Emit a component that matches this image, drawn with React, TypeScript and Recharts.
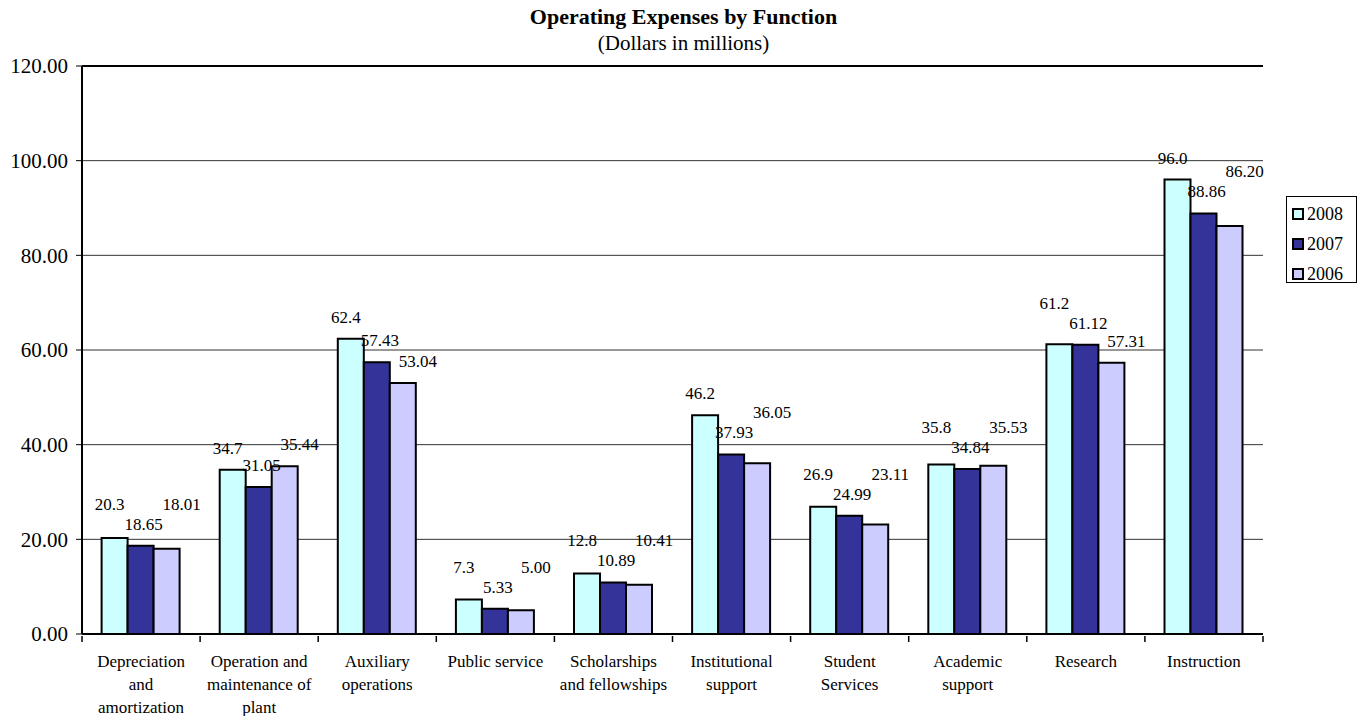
import React from "react";
import { BarChart, Bar, XAxis, YAxis, CartesianGrid, LabelList, ReferenceLine } from "recharts";

const categories = [
  "Depreciation\nand\namortization",
  "Operation and\nmaintenance of\nplant",
  "Auxiliary\noperations",
  "Public service",
  "Scholarships\nand fellowships",
  "Institutional\nsupport",
  "Student\nServices",
  "Academic\nsupport",
  "Research",
  "Instruction",
];
const values2008 = [20.3, 34.7, 62.4, 7.3, 12.8, 46.2, 26.9, 35.8, 61.2, 96.0];
const values2007 = [18.65, 31.05, 57.43, 5.33, 10.89, 37.93, 24.99, 34.84, 61.12, 88.86];
const values2006 = [18.01, 35.44, 53.04, 5.0, 10.41, 36.05, 23.11, 35.53, 57.31, 86.2];
const yTicks = [0, 20, 40, 60, 80, 100, 120];

const seriesDefs = [
  { key: "y2008", name: "2008", color: "#CCFFFF", digits: 1, dx: -5, values: values2008 },
  { key: "y2007", name: "2007", color: "#333399", digits: 2, dx: 3, values: values2007 },
  { key: "y2006", name: "2006", color: "#CCCCFF", digits: 2, dx: 15, values: values2006 },
];

const data = categories.map((c, i) => ({
  name: c,
  y2008: values2008[i],
  y2007: values2007[i],
  y2006: values2006[i],
}));

const FONT = "Liberation Serif, Times New Roman, serif";
const LIFT = 16;
const MIN_SEP = 16;
const STEP = 20;

// label baselines for one category, staggered so neighbouring labels don't collide
function labelBaselines(index: number, base: number, pxPerUnit: number) {
  const tops = seriesDefs.map((s) => base - s.values[index] * pxPerUnit);
  const L = tops.map((t) => t - LIFT);
  if (Math.abs(L[1] - L[0]) < MIN_SEP) {
    if (L[1] >= L[0]) L[0] = L[1] - STEP;
    else L[1] = L[0] - STEP;
  }
  if (Math.abs(L[2] - L[1]) < MIN_SEP) {
    L[2] = L[1] - STEP;
  }
  return L;
}

const XTick = (props: any) => {
  const { x, y, payload, width, visibleTicksCount, index } = props;
  const band = width / visibleTicksCount;
  const lines = String(payload.value).split("\n");
  return (
    <g>
      <line x1={x - band / 2} x2={x - band / 2} y1={y} y2={y + 6} stroke="#000" strokeWidth={1.5} />
      {index === visibleTicksCount - 1 && (
        <line x1={x + band / 2} x2={x + band / 2} y1={y} y2={y + 6} stroke="#000" strokeWidth={1.5} />
      )}
      <text x={x} y={y} textAnchor="middle" style={{ fontFamily: FONT }} fontSize={17} fill="#000">
        {lines.map((l, i) => (
          <tspan key={i} x={x} dy={i === 0 ? 31 : 23}>
            {l}
          </tspan>
        ))}
      </text>
    </g>
  );
};

const makeLabel = (seriesIdx: number) => (props: any) => {
  const { x, y, width, height, value, index } = props;
  const s = seriesDefs[seriesIdx];
  const v = Number(value);
  const base = Number(y) + Number(height);
  const pxPerUnit = v !== 0 ? Number(height) / v : 0;
  const L = labelBaselines(index, base, pxPerUnit);
  return (
    <text
      x={Number(x) + Number(width) / 2 + s.dx}
      y={L[seriesIdx]}
      textAnchor="middle"
      style={{ fontFamily: FONT }}
      fontSize={17}
      fill="#000"
    >
      {v.toFixed(s.digits)}
    </text>
  );
};

export default function App() {
  return (
    <div style={{ position: "absolute", left: 0, top: 0, width: 1361, height: 716, background: "#fff", fontFamily: FONT }}>
      <div style={{ position: "absolute", left: 0, width: 1361, top: 3, textAlign: "center", paddingLeft: 3 }}>
        <div style={{ fontWeight: "bold", fontSize: 22, lineHeight: "27px" }}>Operating Expenses by Function</div>
        <div style={{ fontSize: 21, lineHeight: "26px", marginTop: 0 }}>(Dollars in millions)</div>
      </div>
      <BarChart
        width={1361}
        height={716}
        data={data}
        margin={{ top: 66, right: 98, bottom: 0, left: 0 }}
        barCategoryGap="16.6%"
        barGap={0}
        style={{ position: "absolute", left: 0, top: 0 }}
      >
        <CartesianGrid horizontal vertical={false} stroke="#333" strokeWidth={1} />
        <XAxis
          dataKey="name"
          height={82}
          interval={0}
          tick={<XTick />}
          tickLine={false}
          tickSize={0}
          axisLine={{ stroke: "#000", strokeWidth: 2 }}
        />
        <YAxis
          width={82}
          domain={[0, 120]}
          ticks={yTicks}
          tickFormatter={(v: number) => v.toFixed(2)}
          tick={{ fontFamily: FONT, fontSize: 21, fill: "#000" }}
          tickSize={6}
          tickMargin={8}
          tickLine={{ stroke: "#000" }}
          axisLine={{ stroke: "#000", strokeWidth: 2 }}
        />
        <YAxis
          yAxisId="frame"
          orientation="right"
          width={0}
          domain={[0, 120]}
          tick={false}
          tickLine={false}
          axisLine={{ stroke: "#000", strokeWidth: 2 }}
        />
        <ReferenceLine y={120} stroke="#000" strokeWidth={2} />
        {seriesDefs.map((s, si) => (
          <Bar key={s.key} dataKey={s.key} name={s.name} fill={s.color} stroke="#000" strokeWidth={2} isAnimationActive={false}>
            <LabelList dataKey={s.key} content={makeLabel(si)} />
          </Bar>
        ))}
      </BarChart>
      <div
        style={{
          position: "absolute",
          left: 1286,
          top: 196,
          width: 71,
          height: 87,
          border: "1px solid #000",
          boxSizing: "border-box",
          paddingTop: 2,
        }}
      >
        {seriesDefs.map((s) => (
          <div key={s.key} style={{ display: "flex", alignItems: "center", height: 30, paddingLeft: 5 }}>
            <span
              style={{
                display: "inline-block",
                width: 8,
                height: 8,
                background: s.color,
                border: "2px solid #000",
                marginRight: 3,
              }}
            />
            <span style={{ fontSize: 18 }}>{s.name}</span>
          </div>
        ))}
      </div>
    </div>
  );
}
